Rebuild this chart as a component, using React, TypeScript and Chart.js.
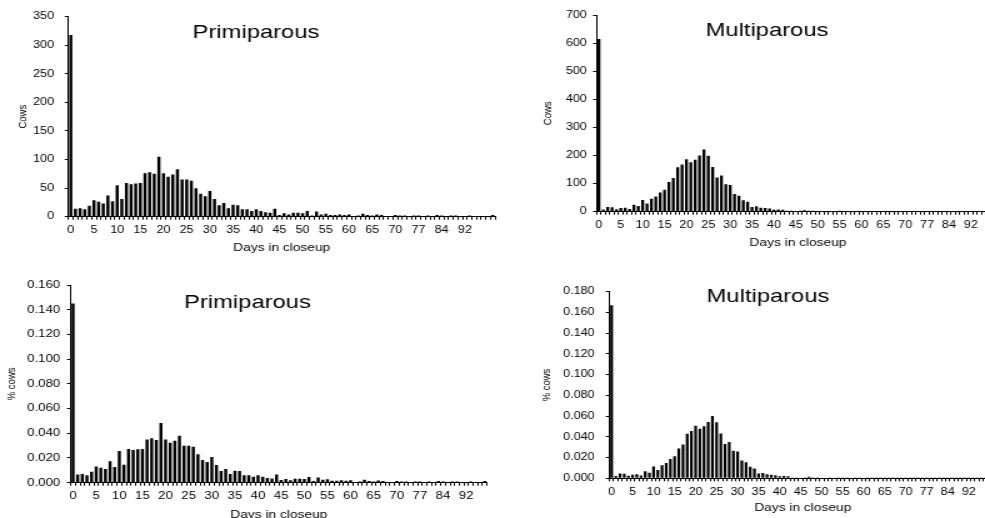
import React, { useEffect, useRef } from "react";
import { Chart, registerables } from "chart.js";

Chart.register(...registerables);

// ---------- data ----------
const days: string[] = [
  "0", "1", "2", "3", "4", "5", "6", "7", "8", "9",
  "10", "11", "12", "13", "14", "15", "16", "17", "18", "19",
  "20", "21", "22", "23", "24", "25", "26", "27", "28", "29",
  "30", "31", "32", "33", "34", "35", "36", "37", "38", "39",
  "40", "41", "42", "43", "44", "45", "46", "47", "48", "49",
  "50", "51", "52", "53", "54", "55", "56", "57", "58", "59",
  "60", "61", "62", "63", "64", "65", "66", "67", "68", "69",
  "70", "71", "72", "74", "75", "77", "78", "80", "81", "82",
  "84", "85", "87", "88", "90", "92", "93", "95", "96", "98",
  "100", "102",
];

const shownTicks: string[] = [
  "0", "5", "10", "15", "20", "25", "30", "35", "40", "45",
  "50", "55", "60", "65", "70", "77", "84", "92",
];

const primiCows: number[] = [
  318, 14, 15, 13, 19, 29, 26, 23, 37, 27,
  55, 31, 59, 57, 58, 59, 76, 78, 75, 105,
  76, 70, 74, 83, 65, 65, 63, 50, 40, 36,
  45, 31, 20, 24, 15, 21, 20, 13, 13, 10,
  13, 10, 8, 7, 14, 3, 6, 4, 7, 7,
  6, 10, 2, 9, 4, 5, 3, 3, 4, 3,
  4, 1, 2, 5, 3, 2, 4, 3, 1, 1,
  3, 2, 2, 1, 2, 2, 1, 2, 1, 3,
  2, 1, 2, 2, 1, 1, 2, 1, 1, 1,
  1, 3,
];

const multiCows: number[] = [
  615, 8, 17, 16, 9, 13, 14, 10, 25, 20,
  42, 29, 46, 54, 68, 78, 106, 120, 158, 168,
  187, 176, 185, 200, 221, 199, 159, 122, 129, 98,
  95, 63, 57, 41, 35, 17, 19, 14, 13, 11,
  7, 8, 7, 3, 3, 2, 3, 5, 3, 3,
  2, 2, 1, 2, 1, 3, 1, 2, 1, 1,
  2, 1, 1, 1, 1, 1, 1, 1, 1, 1,
  1, 1, 1, 1, 1, 1, 1, 1, 1, 1,
  1, 1, 1, 1, 1, 1, 1, 1, 1, 1,
  1, 1,
];

const primiPct: number[] = [
  0.145, 0.0067, 0.007, 0.006, 0.0089, 0.0132, 0.012, 0.011, 0.0173, 0.0127,
  0.0256, 0.0146, 0.0273, 0.0264, 0.027, 0.0273, 0.035, 0.036, 0.0345, 0.0483,
  0.035, 0.0324, 0.034, 0.038, 0.03, 0.03, 0.029, 0.023, 0.0184, 0.0167,
  0.0208, 0.0143, 0.0094, 0.011, 0.007, 0.0097, 0.0094, 0.006, 0.006, 0.0049,
  0.006, 0.0049, 0.0038, 0.0035, 0.0067, 0.0022, 0.003, 0.002, 0.0032, 0.0032,
  0.003, 0.0046, 0.0013, 0.0043, 0.0024, 0.0027, 0.0015, 0.0015, 0.002, 0.0015,
  0.002, 0.0006, 0.001, 0.0023, 0.0014, 0.001, 0.0018, 0.0014, 0.0006, 0.0006,
  0.0014, 0.0009, 0.0009, 0.0005, 0.0009, 0.0009, 0.0005, 0.0009, 0.0005, 0.0014,
  0.0009, 0.0005, 0.0009, 0.0009, 0.0005, 0.0005, 0.0009, 0.0005, 0.0005, 0.0014,
];

const multiPct: number[] = [
  0.167, 0.0022, 0.0046, 0.0043, 0.0024, 0.0035, 0.0038, 0.0027, 0.0068, 0.0054,
  0.0114, 0.0079, 0.0125, 0.0147, 0.0185, 0.0212, 0.0288, 0.0326, 0.0429, 0.0457,
  0.0508, 0.0478, 0.0503, 0.0543, 0.0601, 0.0541, 0.0432, 0.0332, 0.0351, 0.0266,
  0.0258, 0.0171, 0.0155, 0.0111, 0.0095, 0.0046, 0.0052, 0.0038, 0.0035, 0.003,
  0.0019, 0.0022, 0.0019, 0.0008, 0.0008, 0.0005, 0.0008, 0.0014, 0.0008, 0.0008,
  0.0005, 0.0005, 0.0003, 0.0005, 0.0003, 0.0008, 0.0003, 0.0005, 0.0003, 0.0003,
  0.0005, 0.0003, 0.0003, 0.0003, 0.0003, 0.0003, 0.0003, 0.0003, 0.0003, 0.0003,
  0.0003, 0.0003, 0.0003, 0.0003, 0.0003, 0.0003, 0.0003, 0.0003, 0.0003, 0.0003,
  0.0003, 0.0003, 0.0003, 0.0003, 0.0003, 0.0003, 0.0003, 0.0003, 0.0003, 0.0003,
  0.0003, 0.0003,
];

// ---------- styling / layout ----------
const FONT = "'Liberation Sans', Arial, Helvetica, sans-serif";
const SX = 1.25; // horizontal stretch of the rendered picture

type Panel = {
  title: string;
  yTitle: string;
  values: number[];
  yMax: number;
  yStep: number;
  decimals: number;
  tickSize: number;
  left: number; top: number; w: number; h: number; // screen box
  padTop: number; padRight: number;
  yWidth: number; yTitlePad: number; yTickPad: number;
  xHeight: number; xTitlePad: number;
  titleX: number; titleY: number;
};

const panels: Panel[] = [
  {
    title: "Primiparous", yTitle: "Cows", values: primiCows, yMax: 350, yStep: 50, decimals: 0, tickSize: 10,
    left: 0, top: 0, w: 500, h: 258,
    padTop: 16.7, padRight: 4, yWidth: 54.8, yTitlePad: 12.2, yTickPad: 8.6,
    xHeight: 41.3, xTitlePad: 3.2, titleX: 204.8, titleY: 38.3,
  },
  {
    title: "Multiparous", yTitle: "Cows", values: multiCows, yMax: 700, yStep: 100, decimals: 0, tickSize: 10,
    left: 500, top: 0, w: 520, h: 258,
    padTop: 15, padRight: 16.6, yWidth: 77.4, yTitlePad: 33, yTickPad: 5,
    xHeight: 46.3, xTitlePad: 8.2, titleX: 213.6, titleY: 36,
  },
  {
    title: "Primiparous", yTitle: "% cows", values: primiPct, yMax: 0.16, yStep: 0.02, decimals: 3, tickSize: 10.5,
    left: 0, top: 258, w: 500, h: 268,
    padTop: 27, padRight: 10.4, yWidth: 56.6, yTitlePad: 3.3, yTickPad: 5.5,
    xHeight: 43.3, xTitlePad: 4.2, titleX: 198, titleY: 49.7,
  },
  {
    title: "Multiparous", yTitle: "% cows", values: multiPct, yMax: 0.18, yStep: 0.02, decimals: 3, tickSize: 10,
    left: 500, top: 258, w: 520, h: 268,
    padTop: 33.7, padRight: 19.2, yWidth: 87.6, yTitlePad: 31.2, yTickPad: 9,
    xHeight: 47.7, xTitlePad: 11.2, titleX: 214.4, titleY: 44.3,
  },
];

function makeChart(canvas: HTMLCanvasElement, p: Panel): Chart {
  const labels = days.slice(0, p.values.length);
  const titlePlugin = {
    id: "panelTitle",
    afterDraw(chart: any) {
      const ctx = chart.ctx as CanvasRenderingContext2D;
      ctx.save();
      ctx.font = `19px ${FONT}`;
      ctx.fillStyle = "#000";
      ctx.textAlign = "center";
      ctx.textBaseline = "alphabetic";
      ctx.fillText(p.title, p.titleX, p.titleY);
      ctx.restore();
    },
  };
  return new Chart(canvas, {
    type: "bar",
    data: {
      labels,
      datasets: [
        {
          data: p.values,
          backgroundColor: "#000",
          borderWidth: 0,
          barPercentage: 0.66,
          categoryPercentage: 1,
        },
      ],
    },
    options: {
      animation: false,
      responsive: false,
      devicePixelRatio: 1,
      events: [],
      layout: { padding: { left: 0, top: p.padTop, right: p.padRight, bottom: 0 } },
      plugins: { legend: { display: false }, tooltip: { enabled: false }, title: { display: false } },
      scales: {
        x: {
          type: "category",
          offset: true,
          grid: { display: true, drawOnChartArea: false, drawTicks: true, tickLength: 3, color: "#000", offset: true },
          border: { display: true, color: "#000", width: 1 },
          ticks: {
            autoSkip: false,
            maxRotation: 0,
            minRotation: 0,
            padding: 4.5,
            color: "#000",
            font: { family: FONT, size: p.tickSize },
            callback: (_v: any, i: number) => (shownTicks.includes(labels[i]) ? labels[i] : ""),
          },
          title: {
            display: true,
            text: "Days in closeup",
            color: "#000",
            font: { family: FONT, size: 11 },
            padding: { top: 0, bottom: p.xTitlePad },
          },
          afterFit: (s: any) => { s.height = p.xHeight; },
        },
        y: {
          min: 0,
          max: p.yMax,
          grid: { display: true, drawOnChartArea: false, drawTicks: true, tickLength: 3, color: "#000" },
          border: { display: true, color: "#000", width: 1 },
          ticks: {
            stepSize: p.yStep,
            padding: p.yTickPad,
            color: "#000",
            font: { family: FONT, size: p.tickSize },
            callback: (v: any) => Number(v).toFixed(p.decimals),
          },
          title: {
            display: true,
            text: p.yTitle,
            color: "#000",
            font: { family: FONT, size: 9.5 },
            padding: { top: p.yTitlePad, bottom: 0 },
          },
          afterFit: (s: any) => { s.width = p.yWidth; },
        },
      },
    } as any,
    plugins: [titlePlugin],
  });
}

function PanelChart({ p }: { p: Panel }) {
  const ref = useRef<HTMLCanvasElement | null>(null);
  useEffect(() => {
    if (!ref.current) return;
    const chart = makeChart(ref.current, p);
    return () => chart.destroy();
  }, [p]);
  return (
    <canvas
      ref={ref}
      width={Math.round(p.w / SX)}
      height={p.h}
      style={{ position: "absolute", left: p.left, top: p.top, width: p.w, height: p.h }}
    />
  );
}

export default function App() {
  return (
    <div
      style={{
        position: "fixed",
        left: 0,
        top: 0,
        width: 985,
        height: 518,
        overflow: "hidden",
        background: "#fff",
      }}
    >
      {panels.map((p, i) => (
        <PanelChart key={i} p={p} />
      ))}
    </div>
  );
}
